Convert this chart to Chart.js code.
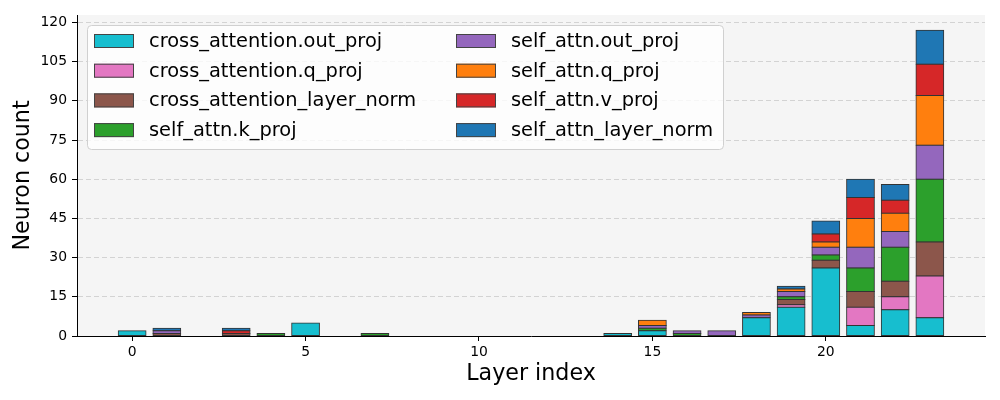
<!DOCTYPE html>
<html>
<head>
<meta charset="utf-8">
<script src="https://cdn.jsdelivr.net/npm/chart.js@4/dist/chart.umd.min.js"></script>
<style>
  html, body { margin: 0; padding: 0; background: #fff; }
  #wrap { width: 1000px; height: 400px; }
</style>
</head>
<body>
<div id="wrap"><canvas id="chart" width="1000" height="400"></canvas></div>
<script>
// layer indices 0..23
const layers = [0,1,2,3,4,5,6,7,8,9,10,11,12,13,14,15,16,17,18,19,20,21,22,23];

const seriesNames = [
  `cross_attention.out_proj`,
  `cross_attention.q_proj`,
  `cross_attention_layer_norm`,
  `self_attn.k_proj`,
  `self_attn.out_proj`,
  `self_attn.q_proj`,
  `self_attn.v_proj`,
  `self_attn_layer_norm`
];
const seriesColors = [`#17becf`, `#e377c2`, `#8c564b`, `#2ca02c`, `#9467bd`, `#ff7f0e`, `#d62728`, `#1f77b4`];

//                        0 1 2 3 4 5 6 7 8 9 10 11 12 13 14 15 16 17 18 19 20 21 22 23
const crossOutProj     = [2,0,0,0,0,5,0,0,0,0, 0, 0, 0, 0, 1, 2, 0, 0, 7,11,26, 4,10, 7];
const crossQProj       = [0,0,0,0,0,0,0,0,0,0, 0, 0, 0, 0, 0, 0, 0, 0, 0, 1, 0, 7, 5,16];
const crossLayerNorm   = [0,1,0,1,0,0,0,0,0,0, 0, 0, 0, 0, 0, 0, 0, 0, 0, 2, 3, 6, 6,13];
const selfKProj        = [0,0,0,0,1,0,0,1,0,0, 0, 0, 0, 0, 0, 1, 1, 0, 0, 1, 2, 9,13,24];
const selfOutProj      = [0,1,0,0,0,0,0,0,0,0, 0, 0, 0, 0, 0, 1, 1, 2, 1, 2, 3, 8, 6,13];
const selfQProj        = [0,0,0,0,0,0,0,0,0,0, 0, 0, 0, 0, 0, 2, 0, 0, 1, 1, 2,11, 7,19];
const selfVProj        = [0,0,0,1,0,0,0,0,0,0, 0, 0, 0, 0, 0, 0, 0, 0, 0, 0, 3, 8, 5,12];
const selfLayerNorm    = [0,1,0,1,0,0,0,0,0,0, 0, 0, 0, 0, 0, 0, 0, 0, 0, 1, 5, 7, 6,13];

const seriesValues = [crossOutProj, crossQProj, crossLayerNorm, selfKProj, selfOutProj, selfQProj, selfVProj, selfLayerNorm];

const xTicks = [0, 5, 10, 15, 20];
const yTicks = [0, 15, 30, 45, 60, 75, 90, 105, 120];

const FONT = `'DejaVu Sans', sans-serif`;

// light grey plot background
const plotBackground = {
  id: `plotBackground`,
  beforeDraw(chart) {
    const {ctx, chartArea} = chart;
    ctx.save();
    ctx.fillStyle = `#f5f5f5`;
    ctx.fillRect(chartArea.left, chartArea.top, chartArea.right - chartArea.left, chartArea.bottom - chartArea.top);
    ctx.restore();
  }
};

// matplotlib-ish legend in the upper left, two columns
const insideLegend = {
  id: `insideLegend`,
  afterDraw(chart) {
    const {ctx, chartArea} = chart;
    const boxX = chartArea.left + 10, boxY = chartArea.top + 10;
    const boxW = 636, boxH = 124;
    ctx.save();
    ctx.beginPath();
    ctx.roundRect(boxX + 0.5, boxY + 0.5, boxW, boxH, 4);
    ctx.fillStyle = `rgba(255,255,255,0.8)`;
    ctx.fill();
    ctx.strokeStyle = `#d0d0d0`;
    ctx.lineWidth = 1;
    ctx.stroke();

    ctx.font = `19.4px ${FONT}`;
    ctx.textBaseline = `middle`;
    ctx.textAlign = `left`;
    chart.data.datasets.forEach((ds, i) => {
      const col = Math.floor(i / 4), row = i % 4;
      const sx = boxX + 7 + col * 362;
      const cy = boxY + 16 + row * 29.7;
      ctx.fillStyle = ds.backgroundColor;
      ctx.fillRect(sx, cy - 7, 40, 14);
      ctx.strokeStyle = `#444`;
      ctx.strokeRect(sx + 0.5, cy - 6.5, 39, 13);
      ctx.fillStyle = `#000`;
      ctx.fillText(ds.label, sx + 55, cy + 1);
    });
    ctx.restore();
  }
};

const datasets = seriesNames.map((name, i) => ({
  label: name,
  data: layers.map((l, j) => ({x: l, y: seriesValues[i][j] || null})),
  backgroundColor: seriesColors[i],
  borderColor: `#333`,
  borderWidth: 1,
  borderSkipped: false,
  inflateAmount: 0.5,
  barPercentage: 0.8,
  categoryPercentage: 1.0
}));

new Chart(document.getElementById(`chart`), {
  type: `bar`,
  data: {datasets},
  plugins: [plotBackground, insideLegend],
  options: {
    responsive: false,
    animation: false,
    layout: {padding: {top: 15, right: 15, left: 0, bottom: 0}},
    plugins: {legend: {display: false}, tooltip: {enabled: false}},
    scales: {
      x: {
        type: `linear`,
        stacked: true,
        offset: false,
        min: -1.59,
        max: 24.59,
        afterFit: (s) => { s.height = 64; },
        afterBuildTicks: (s) => { s.ticks = xTicks.map(v => ({value: v})); },
        ticks: {color: `#000`, font: {family: FONT, size: 13.9}, padding: 3, maxRotation: 0},
        grid: {offset: false, drawOnChartArea: false, drawTicks: true, tickLength: 5, tickColor: `#000`, tickWidth: 1},
        border: {color: `#000`, width: 1},
        title: {display: true, text: `Layer index`, color: `#000`, font: {family: FONT, size: 22.2}, padding: {top: 0, bottom: 12}}
      },
      y: {
        stacked: true,
        min: 0,
        max: 122.85,
        afterFit: (s) => { s.width = 77; },
        afterBuildTicks: (s) => { s.ticks = yTicks.map(v => ({value: v})); },
        ticks: {color: `#000`, font: {family: FONT, size: 13.9}, padding: 5},
        grid: {color: `#d3d3d3`, lineWidth: 1, tickLength: 5, tickColor: `#000`, tickBorderDash: [], tickWidth: 1},
        border: {color: `#000`, width: 1, dash: [5, 3]},
        title: {display: true, text: `Neuron count`, color: `#000`, font: {family: FONT, size: 22.2}, padding: {top: 10, bottom: 0}}
      }
    }
  }
});
</script>
</body>
</html>
